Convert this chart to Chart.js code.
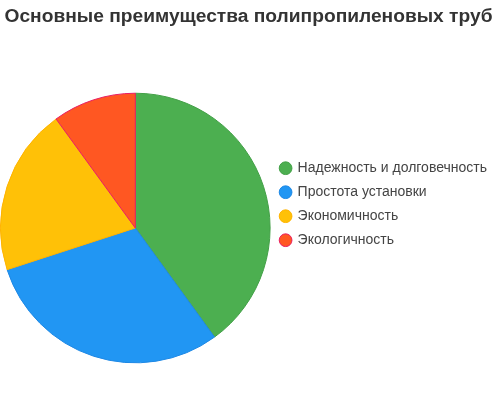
<!DOCTYPE html>
<html>
<head>
<meta charset="utf-8">
<script src="https://cdn.jsdelivr.net/npm/chart.js@4"></script>
<style>
  html, body { margin: 0; padding: 0; background: #fff; }
  #wrap { width: 497px; height: 408px; }
</style>
</head>
<body>
<div id="wrap"><canvas id="pieChart"></canvas></div>
<script>
  // данные диаграммы
  var labels = ['Надежность и долговечность', 'Простота установки', 'Экономичность', 'Экологичность'];
  var values = [40, 30, 20, 10];
  var colors = ['#4CAF50', '#2196F3', '#FFC107', '#FF5722'];
  var borders = ['#43A047', '#1E88E5', '#FFB300', '#E91E63'];

  var ctx = document.getElementById('pieChart').getContext('2d');
  var pieChart = new Chart(ctx, {
      type: 'pie',
      data: {
          labels: labels,
          datasets: [{
              data: values,
              backgroundColor: colors,
              borderColor: borders,
              borderWidth: 1
          }]
      },
      options: {
          responsive: true,
          maintainAspectRatio: false,
          animation: false,
          layout: { padding: 0 },
          plugins: {
              title: {
                  display: true,
                  text: 'Основные преимущества полипропиленовых труб',
                  color: '#333',
                  font: { family: 'Liberation Sans', size: 19.2, weight: 'bold' },
                  padding: { top: 5, bottom: 20 }
              },
              legend: {
                  position: 'right',
                  align: 'start',
                  title: { display: true, text: '', padding: { top: 150, bottom: 0 }, font: { size: 1 } },
                  labels: {
                      usePointStyle: true,
                      pointStyle: 'circle',
                      boxWidth: 10,
                      boxHeight: 9,
                      padding: 10,
                      color: '#444',
                      font: { family: 'Liberation Sans', size: 14 }
                  }
              },
              tooltip: { enabled: false }
          }
      }
  });
</script>
</body>
</html>
